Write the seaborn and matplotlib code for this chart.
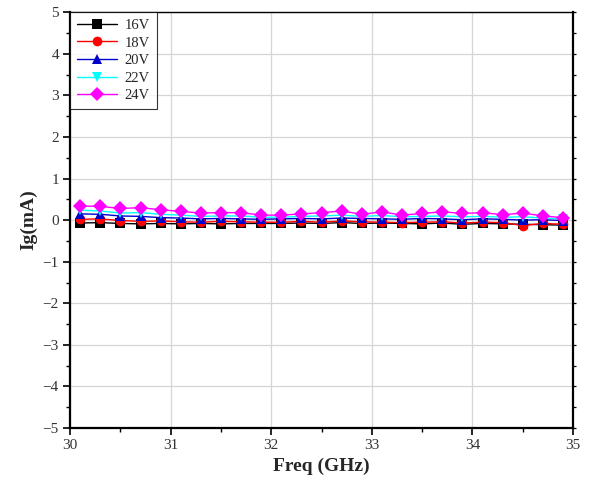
import numpy as np
import pandas as pd
import matplotlib
matplotlib.use("Agg")
import matplotlib.pyplot as plt
import seaborn as sns
from matplotlib.ticker import MultipleLocator

# 주파수 (GHz)
freq = [30.1, 30.3, 30.5, 30.7, 30.9, 31.1, 31.3, 31.5, 31.7, 31.9, 32.1, 32.3, 32.5,
        32.7, 32.9, 33.1, 33.3, 33.5, 33.7, 33.9, 34.1, 34.3, 34.5, 34.7, 34.9]

# 게이트 전류 Ig (mA)
ig_16v = [-0.07, -0.06, -0.08, -0.09, -0.08, -0.09, -0.08, -0.09, -0.08, -0.08, -0.08, -0.07, -0.08,
          -0.06, -0.08, -0.07, -0.08, -0.09, -0.07, -0.10, -0.08, -0.09, -0.10, -0.11, -0.12]
ig_18v = [0.02, 0.03, -0.01, -0.03, -0.02, -0.04, -0.05, -0.03, -0.04, -0.05, -0.05, -0.03, -0.05,
          -0.02, -0.04, -0.05, -0.06, -0.05, -0.04, -0.07, -0.05, -0.06, -0.13, -0.08, -0.10]
ig_20v = [0.15, 0.14, 0.10, 0.09, 0.06, 0.05, 0.03, 0.04, 0.03, 0.02, 0.03, 0.04, 0.03,
          0.05, 0.04, 0.03, 0.02, 0.04, 0.03, 0.01, 0.03, 0.02, 0.00, 0.01, -0.01]
ig_22v = [0.24, 0.22, 0.17, 0.18, 0.14, 0.12, 0.09, 0.10, 0.10, 0.07, 0.07, 0.09, 0.10,
          0.12, 0.09, 0.11, 0.08, 0.09, 0.10, 0.08, 0.09, 0.07, 0.08, 0.05, 0.03]
ig_24v = [0.34, 0.33, 0.28, 0.30, 0.25, 0.21, 0.17, 0.18, 0.18, 0.12, 0.12, 0.15, 0.18,
          0.22, 0.14, 0.20, 0.12, 0.16, 0.20, 0.16, 0.18, 0.13, 0.17, 0.10, 0.06]

labels = ["16V", "18V", "20V", "22V", "24V"]
series = [ig_16v, ig_18v, ig_20v, ig_22v, ig_24v]

df = pd.concat(
    [pd.DataFrame({"freq": freq, "ig": s, "bias": lab}) for lab, s in zip(labels, series)],
    ignore_index=True,
)

sns.set_theme(style="whitegrid")
plt.rcParams["font.family"] = ["Liberation Serif", "DejaVu Serif"]

fig = plt.figure(figsize=(5.89, 4.87), dpi=100)
ax = fig.add_axes([0.119, 0.121, 0.854, 0.854])

palette = {"16V": "black", "18V": "red", "20V": "#0000cc", "22V": "cyan", "24V": "magenta"}
markers = {"16V": "s", "18V": "o", "20V": "^", "22V": "v", "24V": "D"}

sns.lineplot(
    data=df, x="freq", y="ig", hue="bias", style="bias",
    palette=palette, markers=markers, dashes=False,
    markersize=7, markeredgewidth=0, linewidth=1.0, ax=ax,
)

ax.set_xlim(30, 35)
ax.set_ylim(-5, 5)
ax.xaxis.set_major_locator(MultipleLocator(1))
ax.xaxis.set_minor_locator(MultipleLocator(0.5))
ax.yaxis.set_major_locator(MultipleLocator(1))
ax.yaxis.set_minor_locator(MultipleLocator(0.5))

ax.grid(True, which="major", color="#d6d6d6", linewidth=0.9)
ax.grid(False, which="minor")
ax.set_facecolor("white")

for side in ["left", "bottom", "right"]:
    ax.spines[side].set_color("black")
    ax.spines[side].set_linewidth(1.6)
ax.spines["top"].set_color("black")
ax.spines["top"].set_linewidth(1.0)

ax.tick_params(axis="both", which="major", direction="out", length=5, width=1.2,
               colors="black", labelsize=11, bottom=True, left=True, pad=3)
ax.tick_params(axis="both", which="minor", direction="out", length=3, width=1.0,
               colors="black", bottom=True, left=True)
ax.tick_params(axis="y", which="both", right=True)
for t in ax.yaxis.get_major_ticks() + ax.yaxis.get_minor_ticks():
    t.tick2line.set_markersize(2.5)
    t.tick2line.set_markeredgewidth(0.9)
for lbl in ax.get_xticklabels() + ax.get_yticklabels():
    lbl.set_color("#333333")

ax.set_xlabel("Freq (GHz)", fontsize=14, fontweight="bold", labelpad=4)
ax.set_ylabel("Ig(mA)", fontsize=14, fontweight="bold", labelpad=4)

leg = ax.legend(loc="upper left", borderaxespad=0, frameon=True, fancybox=False,
                fontsize=10.5, handlelength=2.8, labelspacing=0.3, borderpad=0.45,
                handletextpad=0.5)
leg.get_frame().set_edgecolor("black")
leg.get_frame().set_linewidth(0.8)
leg.set_title(None)

fig.savefig("out.png", dpi=100)
plt.close(fig)
